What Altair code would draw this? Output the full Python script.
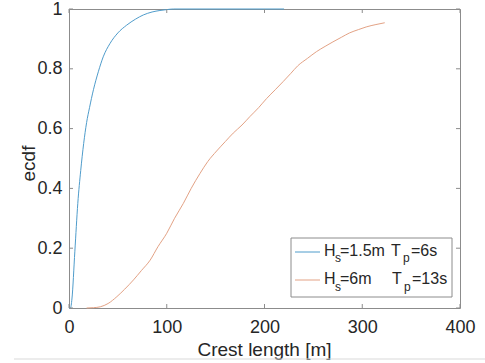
import altair as alt
import pandas as pd

# ---- data ----
blue_x = [0, 1.5, 3, 6, 9, 12, 15, 18, 21, 25, 30, 35, 42, 50, 59, 68, 76, 85, 93, 100, 107, 220]
blue_y = [0, 0, 0.03, 0.19, 0.35, 0.46, 0.55, 0.62, 0.67, 0.73, 0.79, 0.84, 0.885, 0.92, 0.946,
          0.966, 0.98, 0.99, 0.995, 0.998, 1.0, 1.0]
orange_x = [18, 25, 32, 40, 49, 57, 66, 74, 83, 91, 100, 108, 117, 125, 134, 142, 151, 160, 168,
            177, 185, 194, 202, 211, 219, 227, 234, 244, 253, 262, 270, 279, 287, 296, 304, 314, 323]
orange_y = [0, 0.001, 0.004, 0.015, 0.038, 0.063, 0.094, 0.125, 0.16, 0.205, 0.25, 0.30, 0.35, 0.40,
            0.45, 0.49, 0.525, 0.557, 0.585, 0.612, 0.64, 0.67, 0.70, 0.73, 0.757, 0.785, 0.81, 0.835,
            0.857, 0.875, 0.89, 0.906, 0.92, 0.931, 0.94, 0.948, 0.954]
series_names = ["Hs=1.5m Tp=6s", "Hs=6m Tp=13s"]
x_ticks = [0, 100, 200, 300, 400]
y_ticks = [0, 0.2, 0.4, 0.6, 0.8, 1]
x_title = "Crest length [m]"
y_title = "ecdf"
legend_rows = [["H", "s", "=1.5m", "T", "p", "=6s"],
               ["H", "s", "=6m", "T", "p", "=13s"]]

# ---- style ----
series_colors = ["#4f9ccb", "#e3a285"]
FONT = "Liberation Sans"
TXT = "#262626"
AX = "#8c8c8c"
W, H = 391, 299

df = pd.concat([
    pd.DataFrame({"x": blue_x, "y": blue_y, "s": series_names[0]}),
    pd.DataFrame({"x": orange_x, "y": orange_y, "s": series_names[1]}),
])

xs = alt.Scale(domain=[0, 400], nice=False)
ys = alt.Scale(domain=[0, 1], nice=False)

x_axis = alt.Axis(values=x_ticks, format="d", title=x_title, domain=False, ticks=False, tickSize=0,
                  grid=False, labelFont=FONT, labelFontSize=18, labelColor=TXT, labelPadding=24,
                  labelBaseline="alphabetic", labelFlush=False,
                  titleFont=FONT, titleFontSize=19, titleFontWeight="normal", titleColor=TXT,
                  titleX=195, titleY=47, titleBaseline="alphabetic", titleAlign="center")
y_axis = alt.Axis(values=y_ticks, format="~g", title=y_title, domain=False, ticks=False, tickSize=0,
                  grid=False, labelFont=FONT, labelFontSize=18, labelColor=TXT, labelPadding=7,
                  labelFlush=False,
                  titleFont=FONT, titleFontSize=19, titleFontWeight="normal", titleColor=TXT,
                  titleX=-35, titleY=154, titleAngle=270, titleBaseline="alphabetic",
                  titleAlign="center")

lines = alt.Chart(df).mark_line(strokeWidth=1, interpolate="monotone").encode(
    x=alt.X("x:Q", scale=xs, axis=x_axis, title=x_title),
    y=alt.Y("y:Q", scale=ys, axis=y_axis, title=y_title),
    color=alt.Color("s:N", scale=alt.Scale(domain=series_names, range=series_colors), legend=None),
)

xt_df = pd.DataFrame({"v": x_ticks})
yt_df = pd.DataFrame({"v": y_ticks})
tick_len = 4
xt_bottom = alt.Chart(xt_df).mark_rule(color=AX).encode(
    x=alt.X("v:Q", scale=xs, axis=x_axis, title=x_title), y=alt.value(H), y2=alt.value(H - tick_len))
xt_top = alt.Chart(xt_df).mark_rule(color=AX).encode(
    x=alt.X("v:Q", scale=xs, axis=x_axis, title=x_title), y=alt.value(0), y2=alt.value(tick_len))
yt_left = alt.Chart(yt_df).mark_rule(color=AX).encode(
    y=alt.Y("v:Q", scale=ys, axis=y_axis, title=y_title), x=alt.value(0), x2=alt.value(tick_len))
yt_right = alt.Chart(yt_df).mark_rule(color=AX).encode(
    y=alt.Y("v:Q", scale=ys, axis=y_axis, title=y_title), x=alt.value(W), x2=alt.value(W - tick_len))

one = pd.DataFrame({"a": [0]})
legend_box = alt.Chart(one).mark_rect(fill="white", stroke=AX, strokeWidth=1).encode(
    x=alt.value(222), x2=alt.value(383), y=alt.value(229), y2=alt.value(288))

legend_layers = [legend_box]
piece_x = [255, 266, 271, 322, 334, 342]
piece_x2 = [255, 266, 271, 323, 335, 343]
for i, row in enumerate(legend_rows):
    base = 246.7 + 28.3 * i
    ly = 243 + 28 * i
    legend_layers.append(alt.Chart(one).mark_rule(color=series_colors[i], strokeWidth=1).encode(
        x=alt.value(226), x2=alt.value(251), y=alt.value(ly)))
    px = piece_x if i == 0 else piece_x2
    for j, t in enumerate(row):
        sub = j in (1, 4)
        legend_layers.append(alt.Chart(one).mark_text(
            text=t, align="left", baseline="alphabetic", font=FONT,
            fontSize=12 if sub else 16, color=TXT).encode(
            x=alt.value(px[j]), y=alt.value(base + (6.5 if sub else 0))))

bottom_line = alt.Chart(one).mark_rule(color="#d9d9d9", strokeWidth=1).encode(
    x=alt.value(-55), x2=alt.value(416), y=alt.value(350))

chart = alt.layer(lines, xt_bottom, xt_top, yt_left, yt_right, *legend_layers, bottom_line).properties(
    width=W, height=H,
    padding={"left": 69, "top": 9, "right": 25, "bottom": 55},
    autosize=alt.AutoSizeParams(type="none"),
    background="white",
).configure_view(stroke=AX, strokeWidth=1)

chart.save("out.html", embed_options={"renderer": "svg", "actions": False})
